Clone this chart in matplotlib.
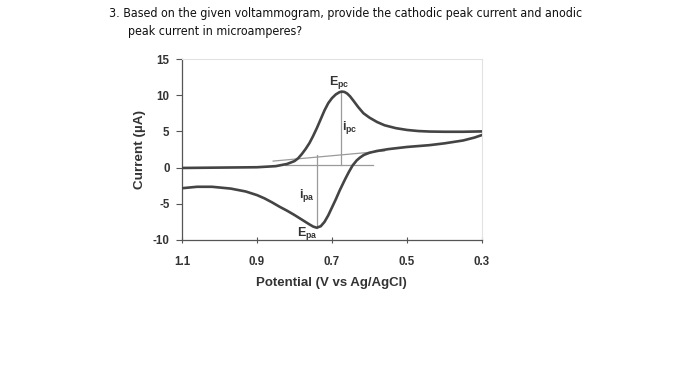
import matplotlib
matplotlib.use("Agg")
import matplotlib.pyplot as plt
from matplotlib import font_manager

# ---- data ----
forward_v = [1.10, 1.00, 0.90, 0.85, 0.82, 0.80, 0.79, 0.78, 0.77, 0.76, 0.75,
             0.74, 0.73, 0.72, 0.71, 0.70, 0.69, 0.68, 0.674, 0.667, 0.66,
             0.652, 0.643, 0.63, 0.616, 0.60, 0.58, 0.56, 0.53, 0.50, 0.47,
             0.44, 0.40, 0.35, 0.30]
forward_i = [-0.05, 0.0, 0.05, 0.2, 0.5, 0.9, 1.3, 1.9, 2.6, 3.4, 4.4,
             5.5, 6.7, 7.9, 8.9, 9.6, 10.1, 10.42, 10.5, 10.45, 10.25,
             9.85, 9.25, 8.35, 7.5, 6.9, 6.3, 5.85, 5.45, 5.2, 5.05,
             4.98, 4.95, 4.95, 5.0]

reverse_v = [0.30, 0.32, 0.35, 0.40, 0.44, 0.50, 0.55, 0.58, 0.60, 0.615,
             0.625, 0.634, 0.645, 0.655, 0.665, 0.679, 0.69, 0.70, 0.71, 0.72,
             0.73, 0.741, 0.75, 0.76, 0.78, 0.80, 0.82, 0.84, 0.86, 0.88,
             0.90, 0.93, 0.97, 1.02, 1.06, 1.10]
reverse_i = [4.5, 4.15, 3.75, 3.35, 3.1, 2.85, 2.55, 2.3, 2.05, 1.75,
             1.4, 1.0, 0.3, -0.6, -1.6, -3.1, -4.4, -5.5, -6.6, -7.5,
             -8.1, -8.3, -8.15, -7.85, -7.2, -6.55, -5.95, -5.4, -4.8, -4.25,
             -3.8, -3.3, -2.9, -2.65, -2.65, -2.85]

baseline_c_v = [0.825, 0.59]   # horizontal baseline under cathodic peak
baseline_c_i = [0.35, 0.35]
baseline_a_v = [0.857, 0.56]   # sloped baseline for anodic peak
baseline_a_i = [0.9, 2.3]
ipc_v = [0.676, 0.676]
ipc_i = [10.5, 0.35]
ipa_v = [0.741, 0.741]
ipa_i = [1.74, -8.3]

labels = [r"$\mathbf{E_{pc}}$", r"$\mathbf{i_{pc}}$", r"$\mathbf{i_{pa}}$", r"$\mathbf{E_{pa}}$"]
label_v = [0.68, 0.652, 0.767, 0.767]
label_i = [11.8, 5.5, -3.8, -9.1]

x_ticks = [1.1, 0.9, 0.7, 0.5, 0.3]
x_ticklabels = ["1.1", "0.9", "0.7", "0.5", "0.3"]
y_ticks = [15, 10, 5, 0, -5, -10]

title_lines = ["3. Based on the given voltammogram, provide the cathodic peak current and anodic",
               "peak current in microamperes?"]

plt.rcParams["mathtext.fontset"] = "custom"
plt.rcParams["mathtext.bf"] = "Liberation Sans:bold"
plt.rcParams["mathtext.rm"] = "Liberation Sans"
plt.rcParams["axes.unicode_minus"] = False

# title font: prefer a condensed DejaVu (Tahoma-like width), else Liberation Sans
title_props = dict(fontfamily="Liberation Sans", fontsize=9.2)
try:
    f = font_manager.findfont(font_manager.FontProperties(family="DejaVu Sans", stretch="condensed"),
                              fallback_to_default=False)
    if "Condensed" in f:
        title_props = dict(fontfamily="DejaVu Sans", fontstretch="condensed", fontsize=8.95)
except Exception:
    pass

fig = plt.figure(figsize=(7, 3.7), dpi=100)
fig.patch.set_facecolor("white")
ax = fig.add_axes([182/700, 1 - 240/370, 300/700, 181/370])

curve_color = "#444444"
ax.plot(forward_v, forward_i, color=curve_color, lw=1.9, solid_joinstyle="round",
        solid_capstyle="round", zorder=3)
ax.plot(reverse_v, reverse_i, color=curve_color, lw=1.9, solid_joinstyle="round",
        solid_capstyle="round", zorder=3)

thin = "#9a9a9a"
for vv, ii in [(baseline_c_v, baseline_c_i), (baseline_a_v, baseline_a_i),
               (ipc_v, ipc_i), (ipa_v, ipa_i)]:
    ax.plot(vv, ii, color=thin, lw=0.9, zorder=2)

for t, vv, ii in zip(labels, label_v, label_i):
    ax.text(vv, ii, t, ha="center", va="center", fontsize=9, color="#333333")

ax.set_xlim(1.1, 0.3)
ax.set_ylim(-10, 15)
ax.set_xticks(x_ticks)
ax.set_xticklabels(x_ticklabels)
ax.set_yticks(y_ticks)

for lab in ax.get_xticklabels() + ax.get_yticklabels():
    lab.set_fontfamily("Liberation Sans")
    lab.set_fontweight("bold")
    lab.set_fontsize(8.3)
    lab.set_color("#333333")

ax.tick_params(axis="y", direction="out", length=4, width=0.8, color="#555555", pad=5)
ax.tick_params(axis="x", direction="inout", length=5, width=0.8, color="#555555", pad=9)

for s in ["left", "bottom"]:
    ax.spines[s].set_color("#555555")
    ax.spines[s].set_linewidth(0.9)
for s in ["top", "right"]:
    ax.spines[s].set_color("#e2e2e2")
    ax.spines[s].set_linewidth(0.8)

ax.set_xlabel("Potential (V vs Ag/AgCl)", fontfamily="Liberation Sans", fontweight="bold",
              fontsize=9.5, color="#333333", va="center", ha="center")
ax.set_ylabel("Current (\u00b5A)", fontfamily="Liberation Sans", fontweight="bold",
              fontsize=9.7, color="#333333", va="center", ha="center")
ax.xaxis.set_label_coords(0.497, -(283 - 240) / 181)
ax.yaxis.set_label_coords((139.5 - 182) / 300, 0.5)

fig.text(109/700, 1 - 14/370, title_lines[0], va="center", ha="left", color="#111111", **title_props)
fig.text(127.5/700, 1 - 31/370, title_lines[1], va="center", ha="left", color="#111111", **title_props)

fig.savefig("out.png", dpi=100, facecolor="white")
